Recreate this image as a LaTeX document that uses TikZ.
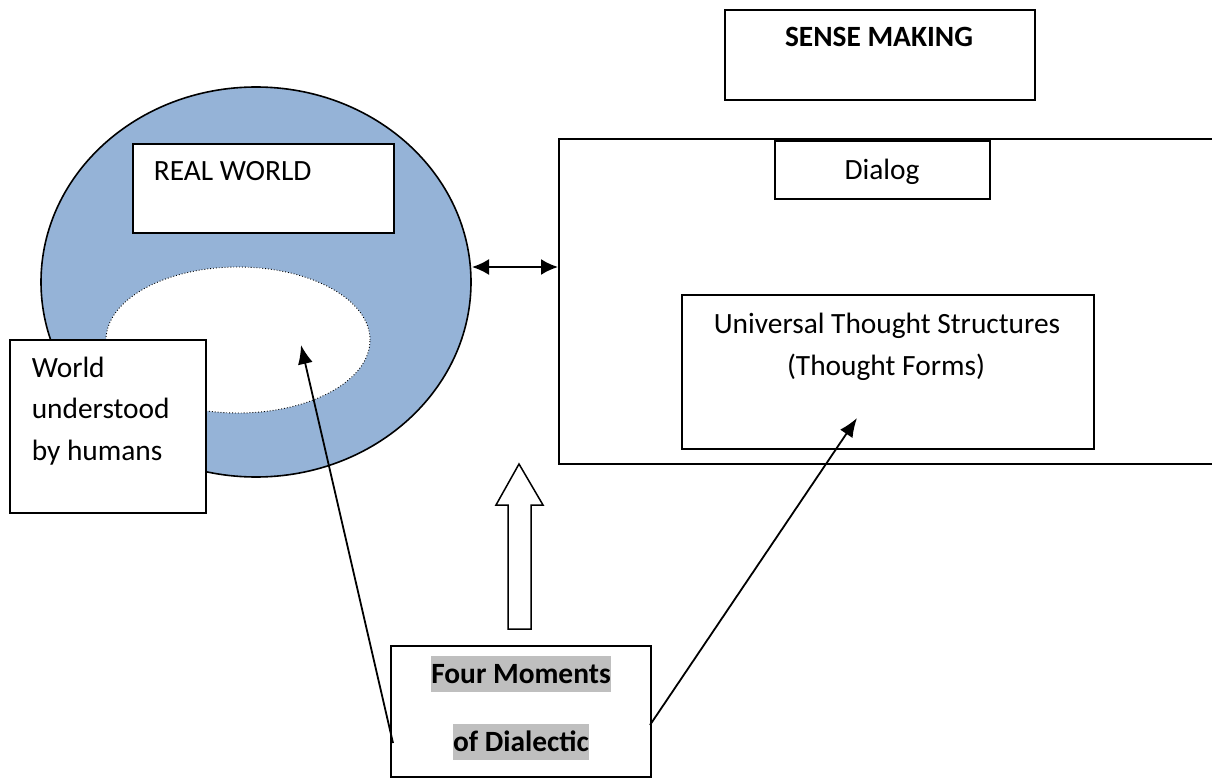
\documentclass[tikz,border=0pt]{standalone}
\usepackage{fontspec}
\setmainfont{Carlito}
\usetikzlibrary{shapes.geometric,arrows.meta}
\definecolor{worldblue}{HTML}{95B3D7}
\definecolor{hl}{HTML}{BFBFBF}
\begin{document}
\begin{tikzpicture}[x=1pt,y=-1pt,line width=1.6pt,
  font=\fontsize{29.4}{34}\selectfont,
  box/.style={draw,fill=white,inner sep=0pt,anchor=north west},
  txt/.style={inner sep=0pt,anchor=base},
  ltxt/.style={inner sep=0pt,anchor=base west},
  hltxt/.style={inner xsep=0pt,inner ysep=0pt,anchor=base,fill=hl,text height=27pt,text depth=9pt,font=\fontsize{29.4}{34}\selectfont\bfseries},
  arr/.style={-{Latex[length=19pt,width=15pt]},line width=1.8pt},
  darr/.style={{Latex[length=17pt,width=16pt]}-{Latex[length=17pt,width=16pt]},line width=2pt}]
\useasboundingbox (0,0) rectangle (1212,778);
\clip (0,0) rectangle (1212,778);
% real world ellipse
\node[ellipse,draw,fill=worldblue,minimum width=430pt,minimum height=390pt,inner sep=0pt] (world) at (256,282) {};
\node[ellipse,draw,fill=white,dotted,line width=0.9pt,minimum width=264pt,minimum height=146pt,inner sep=0pt] (under) at (238,340) {};
\node[box,minimum width=261pt,minimum height=89pt] (real) at (132,143) {};
\node[ltxt] (realt) at (153,181) {REAL WORLD};
\node[box,minimum width=196pt,minimum height=173pt] (wbox) at (9,339) {};
\node[ltxt] (w1) at (31,377) {World};
\node[ltxt] (w2) at (31,418) {understood};
\node[ltxt] (w3) at (31,460) {by humans};
% sense making
\node[box,minimum width=310pt,minimum height=90pt] (sense) at (724,9) {};
\node[txt,font=\fontsize{29.4}{34}\selectfont\bfseries] (senset) at (879,47) {SENSE MAKING};
\node[box,minimum width=700pt,minimum height=325pt] (big) at (558,138) {};
\node[box,minimum width=215pt,minimum height=58pt] (dialog) at (774,140) {};
\node[txt] (dialogt) at (882,179) {Dialog};
\node[box,minimum width=412pt,minimum height=154pt] (uts) at (681,294) {};
\node[txt] (uts1) at (887,333) {Universal Thought Structures};
\node[txt] (uts2) at (886,375) {(Thought Forms)};
% four moments
\node[box,minimum width=260pt,minimum height=131pt] (fm) at (390,645) {};
\node[hltxt] (fm1) at (521,683) {Four Moments};
\node[hltxt] (fm2) at (521,751) {of Dialectic};
% hollow block arrow
\draw[fill=white,line width=1.5pt] (508,629) -- (508,505) -- (496,505) -- (519,464) -- (543,505) -- (531,505) -- (531,629) -- cycle;
% connectors
\coordinate (dl) at (472,267);
\coordinate (dr) at (big.west |- dl);
\draw[darr] (dl) -- (dr);
\coordinate (a1s) at (393,743);
\coordinate (a1e) at (301,345);
\draw[arr] (a1s) -- (a1e);
\coordinate (a2s) at (650,725);
\coordinate (a2e) at (857,418);
\draw[arr] (a2s) -- (a2e);
\end{tikzpicture}
\end{document}
